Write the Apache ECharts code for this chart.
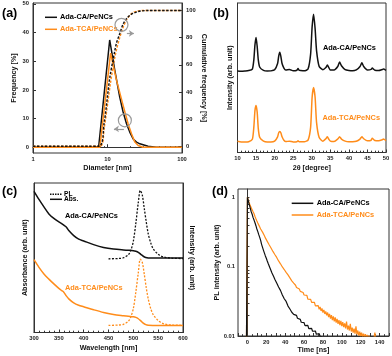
<!DOCTYPE html>
<html>
<head>
<meta charset="utf-8">
<script src="https://cdn.jsdelivr.net/npm/echarts@6/dist/echarts.min.js"></script>
<style>
  html, body { margin: 0; padding: 0; background: #fff; }
  #main { width: 392px; height: 356px; }
</style>
</head>
<body>
<div id="main"></div>
<script>
var FONT = '"Liberation Sans", Arial, sans-serif';
var BLACK = '#111';
var ORANGE = '#ff8c1a';
var GREY = '#9a9a9a';

// (a) size distribution: [diameter nm, %]
var freqCA = [[1,0],[7.6,0],[10.7,37.4],[12.5,27],[14.6,17.5],[16.2,12.3],[18,8.2],[19.9,5.3],[22.1,2.9],[24.5,1.8],[27.2,1.2],[35,0.35],[45,0],[100,0]];
var freqTCA = [[1,0],[7.9,0],[11,32.8],[13.2,23.4],[16.2,14.6],[18.9,8.2],[21,4.7],[23.3,1.8],[25.8,0.6],[30,0],[100,0]];
var cumCA = [[1,0],[7.6,0],[9,17],[10.7,50],[12.5,70],[13.2,76],[14.6,83],[16.2,90],[18,94],[20,96.5],[22,97.8],[25,99],[28,99.6],[35,100],[100,100]];
var cumTCA = [[1,0],[7.9,0],[9,13],[11,47],[12.5,65],[13.2,71],[14.6,80],[16.2,87.5],[18,93],[20,96.5],[22,98.5],[25,99.5],[30,100],[100,100]];
var freqTicks = [0, 10, 20, 30, 40, 50];
var cumTicks = [0, 20, 40, 60, 80, 100];

// (b) XRD, offset traces (arb. unit)
var xrdAngle = [10,11,12,13,14,14.4,14.7,15,15.3,15.6,16,17,18,19,20,20.8,21.1,21.4,21.7,22,22.5,23,24,25,26,26.3,26.6,27,28,29,29.7,30.1,30.5,30.9,31.3,32,33,33.8,34.2,34.6,35,36,37,37.5,38,39,40,41,42,43,43.5,44,45,46,46.3,46.7,47,48,49,49.3,50];
var xrdCA = [54.5,54.3,54.5,54.8,55.8,62,72,77,71,62,57,54.9,54.5,54.6,55.3,59.5,64.5,67,64,59.5,56.5,55.2,55.6,54.6,55,56.2,55,54.8,54.6,55.8,66,84,92.5,83,68,57.5,55.4,56.8,58.5,56.8,55.2,55.2,57.5,60.5,58,55.4,54.8,54.6,55.2,57.5,60,57.5,55.2,55.6,56.5,55.6,55,54.8,55.5,55.8,55];
var xrdTCA = [7.5,7,7,7.2,8.8,17,28,31.5,27,16,10,7.6,7,7,7.6,10.5,13.2,14,13,10.5,8.2,7.3,7.6,7,7.2,7.8,7.2,7.2,7.2,8.3,17,37,43.5,37,20,10,7.6,9.2,10.5,8.8,7.6,7.3,9,10.5,9,7.6,7.2,7.2,7.5,9,10.5,9.2,7.8,8.2,9.6,8.6,8,7.8,8.5,9,8];

// (c) absorbance and PL (arb. unit, offset)
var absWavelength = [300,310,320,330,340,350,355,360,365,370,380,390,400,420,440,460,480,490,500,505,510,515,520,525,530,550,600];
var absCA = [94.4,89,84,79.3,76.3,74,73,71.8,70.5,68.2,64.8,62.4,61.2,58.8,56.9,55.8,55.2,55,54.7,54.3,53.6,52.3,51,50.2,49.9,49.8,49.8];
var absTCA = [48.7,43.6,39.2,35.7,32.5,29.5,28.2,27,24.5,22.5,19.8,18.2,17.2,15.2,13.4,12.1,11.2,10.8,10.5,10.1,9.2,7.8,6.3,5.3,4.9,4.7,4.7];
var plWavelength = [450,470,480,490,495,500,505,510,514,518,522,526,530,535,540,550,560,570,580,600];
var plCA = [49.3,49.5,50,52,55,61,73,87,95,92,83,74,66,60,56,52.3,50.6,50,49.6,49.5];
var plTCA = [4.7,5,5.5,7.5,10.5,16,27,40,49,47,39,30,22.5,16,12,8,6,5.2,5,4.8];

// (d) PL decay: [time ns, normalised intensity]
var decayCA = [[-1,0.0095],[0,1],[1,0.88],[2,0.78],[3,0.70],[4,0.62],[5,0.57],[6,0.51],[7,0.47],[8,0.43],[9,0.39],[10,0.35],
  [11,0.32],[12,0.29],[13,0.265],[14,0.24],[15,0.21],[16,0.19],[17,0.172],[18,0.157],[19,0.143],[20,0.132],
  [21,0.121],[22,0.111],[23,0.104],[24,0.095],[25,0.089],[26,0.081],[27,0.076],[28,0.071],[29,0.066],[30,0.0625],
  [31,0.058],[32,0.0555],[33,0.051],[34,0.049],[35,0.0455],[36,0.043],[37,0.039],[38,0.0375],[39,0.0345],[40,0.034],
  [41,0.0315],[42,0.030],[43,0.027],[44,0.0265],[45,0.0245],[46,0.025],[47,0.022],[48,0.0225],[49,0.0205],[50,0.0208],
  [51,0.0192],[52,0.0198],[53,0.018],[54,0.0184],[55,0.0170],[56,0.0174],[57,0.0158],[58,0.0163],[59,0.0150],[60,0.0156],
  [61,0.0141],[62,0.0148],[63,0.0135],[64,0.0142],[65,0.0128],[66,0.0136],[67,0.0122],[68,0.0129],[69,0.0117],[70,0.0124],
  [71,0.0112],[72,0.0118],[73,0.0106],[74,0.0113],[75,0.0102],[76,0.0108],[77,0.0099],[78,0.0104],[79,0.0097]];
var decayTCA = [[-1,0.0095],[0,1],[1,0.9],[2,0.82],[3,0.76],[4,0.71],[5,0.665],[6,0.62],[7,0.58],[8,0.53],[9,0.49],[10,0.455],
  [11,0.425],[12,0.40],[13,0.375],[14,0.35],[15,0.33],[16,0.315],[17,0.295],[18,0.28],[19,0.26],[20,0.245],
  [21,0.232],[22,0.218],[23,0.207],[24,0.196],[25,0.186],[26,0.176],[27,0.166],[28,0.158],[29,0.15],[30,0.142],
  [31,0.136],[32,0.128],[33,0.121],[34,0.115],[35,0.11],[36,0.105],[37,0.099],[38,0.095],[39,0.091],[40,0.086],
  [41,0.083],[42,0.078],[43,0.076],[44,0.0715],[45,0.069],[46,0.065],[47,0.0625],[48,0.059],[49,0.058],[50,0.0545],
  [51,0.054],[52,0.050],[53,0.0505],[54,0.047],[55,0.0475],[56,0.044],[57,0.0455],[58,0.0415],[59,0.0425],[60,0.039],
  [61,0.0405],[62,0.0365],[63,0.0385],[64,0.034],[65,0.0362],[66,0.0322],[67,0.0338],[68,0.0305],[69,0.0322],[70,0.0288],
  [71,0.0305],[72,0.0272],[73,0.0290],[74,0.0258],[75,0.0275],[76,0.0243],[77,0.0262],[78,0.0230],[79,0.0250],[80,0.0218],
  [81,0.0238],[82,0.0208],[83,0.0226],[84,0.0198],[85,0.0218],[86,0.0187],[87,0.0208],[88,0.0178],[89,0.0200],[90,0.0170],
  [91,0.0192],[92,0.0163],[93,0.0185],[94,0.0156],[95,0.0176],[96,0.0150],[97,0.0170],[98,0.0144],[99,0.0165],[100,0.0139],
  [101,0.0158],[102,0.0134],[103,0.0152],[104,0.0129],[105,0.0162],[106,0.0124],[107,0.0141],[108,0.0120],[109,0.0150],[110,0.0116],
  [111,0.0132],[112,0.0112],[113,0.0128],[114,0.0108],[115,0.0138],[116,0.0105],[117,0.0120],[118,0.0101],[119,0.0116],[120,0.0099],
  [121,0.0112],[122,0.0097],[123,0.0108],[124,0.0096],[125,0.0106],[126,0.0094],[127,0.0104],[128,0.0093],[129,0.0101],[130,0.0092],
  [132,0.0098],[134,0.0091],[135,0.0112],[136,0.0090],[138,0.0095],[140,0.0089]];
var decayLabels = [0.01, 0.1, 1];
var decayTicks = [0.01,0.02,0.03,0.04,0.05,0.06,0.07,0.08,0.09,0.1,0.2,0.3,0.4,0.5,0.6,0.7,0.8,0.9,1];

function zip(xs, ys) {
  return xs.map(function (x, i) { return [x, ys[i]]; });
}

var axisLineStyle = { lineStyle: { color: '#333', width: 1 } };
var labelStyle = { fontSize: 5.8, fontWeight: 'bold', color: '#222', fontFamily: FONT, margin: 3 };
var nameStyle = { fontSize: 7.2, fontWeight: 'bold', color: '#111', fontFamily: FONT };

function valueAxis(extra) {
  var base = {
    axisLine: axisLineStyle,
    axisTick: { inside: true, length: 3, lineStyle: { color: '#333' } },
    minorTick: { show: false },
    axisLabel: labelStyle,
    splitLine: { show: false },
    nameTextStyle: nameStyle,
    nameLocation: 'middle',
    nameMoveOverlap: false
  };
  for (var k in extra) base[k] = extra[k];
  return base;
}

function lineSeries(data, color, xi, yi, extra) {
  var s = {
    type: 'line', data: data, xAxisIndex: xi, yAxisIndex: yi,
    symbol: 'none', silent: true, animation: false,
    lineStyle: { color: color, width: 1.5 },
    itemStyle: { color: color }
  };
  for (var k in extra) s[k] = extra[k];
  return s;
}

function txt(x, y, s, size, color) {
  return { type: 'text', x: x, y: y, silent: true,
    style: { text: s, fill: color || '#000', font: 'bold ' + size + 'px ' + FONT, align: 'left', verticalAlign: 'middle' } };
}
function seg(x1, y1, x2, y2, color, dash) {
  return { type: 'line', silent: true, shape: { x1: x1, y1: y1, x2: x2, y2: y2 },
    style: { stroke: color, lineWidth: 1.5, lineDash: dash || null } };
}

var gridStyle = { show: true, borderColor: '#333', borderWidth: 1, backgroundColor: 'transparent', outerBoundsMode: 'none' };
function grid(l, t, w, h) {
  var g = { left: l, top: t, width: w, height: h };
  for (var k in gridStyle) g[k] = gridStyle[k];
  return g;
}

var option = {
  animation: false,
  backgroundColor: '#fff',
  grid: [
    grid(33, 3, 149, 150),
    grid(237.5, 3, 148.5, 149.5),
    grid(34, 183, 149, 149.5),
    grid(238, 189, 151, 147)
  ],
  xAxis: [
    valueAxis({ gridIndex: 0, type: 'log', logBase: 10, min: 1, max: 100, name: 'Diameter [nm]', nameGap: 12,
      axisLabel: labelStyle }),
    valueAxis({ gridIndex: 0, type: 'log', logBase: 10, min: 1, max: 100,
      axisLine: { show: false }, axisLabel: { show: false },
      axisTick: { inside: true, length: 1.8, lineStyle: { color: '#333' }, customValues: [2,3,4,5,6,7,8,9,20,30,40,50,60,70,80,90] } }),
    valueAxis({ gridIndex: 1, min: 10, max: 50, interval: 5, name: '2\u03b8 [degree]', nameGap: 12,
      minorTick: { show: true, splitNumber: 5, length: 1.8, lineStyle: { color: '#333' } } }),
    valueAxis({ gridIndex: 2, min: 300, max: 600, interval: 50, name: 'Wavelength [nm]', nameGap: 12,
      minorTick: { show: true, splitNumber: 5, length: 1.8, lineStyle: { color: '#333' } } }),
    valueAxis({ gridIndex: 3, min: -10, max: 150, interval: 10, name: 'Time [ns]', nameGap: 10.5,
      minorTick: { show: true, splitNumber: 2, length: 1.8, lineStyle: { color: '#333' } },
      axisLabel: Object.assign({}, labelStyle, { formatter: function (v) { return (v >= 0 && v % 20 === 0) ? String(v) : ''; } }) })
  ],
  yAxis: [
    valueAxis({ gridIndex: 0, min: -2, max: 50.3, name: 'Frequency [%]', nameGap: 15, nameRotate: 90,
      axisLabel: Object.assign({}, labelStyle, { customValues: freqTicks, margin: 4 }),
      axisTick: { inside: true, length: 3, lineStyle: { color: '#333' }, customValues: freqTicks } }),
    valueAxis({ gridIndex: 0, position: 'right', min: -5, max: 105.5, name: 'Cumulative frequency [%]', nameGap: 18, nameRotate: -90,
      axisLabel: Object.assign({}, labelStyle, { customValues: cumTicks, margin: 4 }),
      axisTick: { inside: true, length: 3, lineStyle: { color: '#333' }, customValues: cumTicks } }),
    valueAxis({ gridIndex: 1, min: 0, max: 100, name: 'Intensity (arb. unit)', nameGap: 4, nameRotate: 90,
      axisTick: { show: false }, axisLabel: { show: false } }),
    valueAxis({ gridIndex: 2, min: 0, max: 100, name: 'Absorbance (arb. unit)', nameGap: 5.5, nameRotate: 90,
      axisTick: { show: false }, axisLabel: { show: false } }),
    valueAxis({ gridIndex: 2, position: 'right', min: 0, max: 100, name: 'Intensity (arb. unit)', nameGap: 5, nameRotate: -90,
      axisTick: { show: false }, axisLabel: { show: false } }),
    valueAxis({ gridIndex: 3, type: 'log', logBase: 10, min: 0.01, max: 1.32, name: 'PL intensity (arb. unit)', nameGap: 17, nameRotate: 90,
      axisLabel: Object.assign({}, labelStyle, { customValues: decayLabels,
        formatter: function (v) { return v > 0.5 ? '1' : (v > 0.05 ? '0.1' : '0.01'); } }),
      axisTick: { inside: true, length: 2, lineStyle: { color: '#333' }, customValues: decayTicks } })
  ],
  series: [
    lineSeries(cumTCA, ORANGE, 0, 1, { smooth: 0.3, lineStyle: { color: ORANGE, width: 1.4, type: [2.5, 1.5] } }),
    lineSeries(freqCA, BLACK, 0, 0, {
      markPoint: { silent: true, symbol: 'circle', symbolSize: 13, label: { show: false },
        itemStyle: { color: 'rgba(0,0,0,0)', borderColor: GREY, borderWidth: 1.2 },
        data: [{ coord: [17.1, 9.4] }] },
      markLine: { silent: true, symbol: ['none', 'arrow'], symbolSize: 5, label: { show: false },
        lineStyle: { color: GREY, width: 1.2, type: 'solid' },
        data: [[{ coord: [16.6, 6.4] }, { coord: [12.2, 6.4] }]] }
    }),
    lineSeries(freqTCA, ORANGE, 0, 0),
    lineSeries(cumCA, BLACK, 0, 1, { smooth: 0.3, lineStyle: { color: BLACK, width: 1.4, type: [2.5, 1.5] },
      markPoint: { silent: true, symbol: 'circle', symbolSize: 13, label: { show: false },
        itemStyle: { color: 'rgba(0,0,0,0)', borderColor: GREY, borderWidth: 1.2 },
        data: [{ coord: [15.4, 89.4] }] },
      markLine: { silent: true, symbol: ['none', 'arrow'], symbolSize: 5, label: { show: false },
        lineStyle: { color: GREY, width: 1.2, type: 'solid' },
        data: [[{ coord: [18.2, 83.1] }, { coord: [22.6, 83.1] }]] }
    }),

    lineSeries(zip(xrdAngle, xrdCA), BLACK, 2, 2, { smooth: 0.2 }),
    lineSeries(zip(xrdAngle, xrdTCA), ORANGE, 2, 2, { smooth: 0.2 }),

    lineSeries(zip(absWavelength, absCA), BLACK, 3, 3, { smooth: 0.3 }),
    lineSeries(zip(plWavelength, plCA), BLACK, 3, 3, { smooth: 0.3, lineStyle: { color: BLACK, width: 1.3, type: [2, 1.5] } }),
    lineSeries(zip(absWavelength, absTCA), ORANGE, 3, 3, { smooth: 0.3 }),
    lineSeries(zip(plWavelength, plTCA), ORANGE, 3, 3, { smooth: 0.3, lineStyle: { color: ORANGE, width: 1.3, type: [2, 1.5] } }),

    lineSeries(decayTCA, ORANGE, 4, 5, { lineStyle: { color: ORANGE, width: 1.2 } }),
    lineSeries(decayCA, BLACK, 4, 5, { lineStyle: { color: BLACK, width: 1.2 } })
  ],
  graphic: { elements: [
    txt(2, 14, '(a)', 12.5),
    seg(45, 17.3, 57, 17.3, BLACK), txt(60, 17.3, 'Ada-CA/PeNCs', 7.4),
    seg(45, 29.3, 57, 29.3, ORANGE), txt(60, 29.3, 'Ada-TCA/PeNCs', 7.4, ORANGE),

    txt(213, 14, '(b)', 12.5),
    txt(323, 48, 'Ada-CA/PeNCs', 7.4),
    txt(322.5, 118.3, 'Ada-TCA/PeNCs', 7.4, ORANGE),

    txt(2, 191.7, '(c)', 12.5),
    seg(50, 194.3, 62, 194.3, BLACK, [1.5, 1]), txt(64, 194.3, 'PL', 6.6),
    seg(50, 199.3, 62, 199.3, BLACK), txt(64, 199.3, 'Abs.', 6.6),
    txt(65, 215.7, 'Ada-CA/PeNCs', 7.4),
    txt(65, 287.7, 'Ada-TCA/PeNCs', 7.4, ORANGE),

    txt(212, 191.7, '(d)', 12.5),
    seg(291.7, 203.3, 313.3, 203.3, BLACK), txt(316.7, 203.3, 'Ada-CA/PeNCs', 7.4),
    seg(291.7, 215, 313.3, 215, ORANGE), txt(316.7, 215, 'Ada-TCA/PeNCs', 7.4, ORANGE)
  ] }
};

var chart = echarts.init(document.getElementById('main'), null, { renderer: 'canvas' });
chart.setOption(option);
</script>
</body>
</html>
